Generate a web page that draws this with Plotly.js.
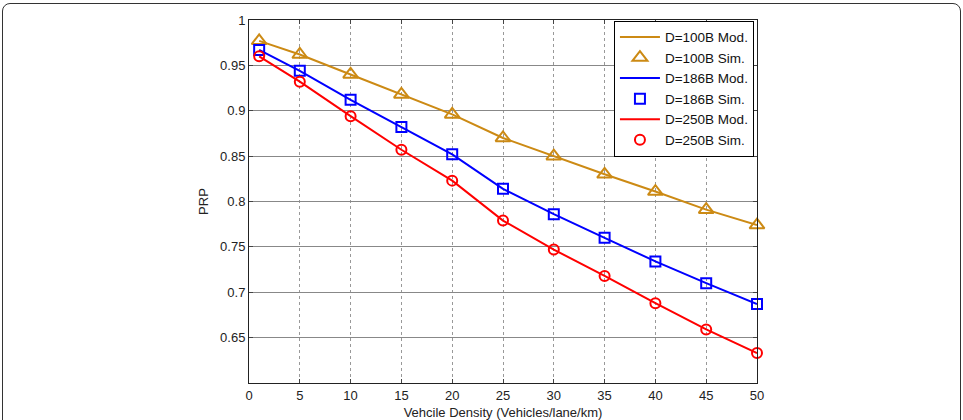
<!DOCTYPE html>
<html>
<head>
<meta charset="utf-8">
<script src="https://cdn.plot.ly/plotly-3.0.1.min.js"></script>
<style>
  html, body { margin: 0; padding: 0; background: #fff; }
  #frame { position: absolute; left: 2px; top: 3px; width: 957px; height: 440px; border: 1.5px solid #333; border-radius: 8px; }
  #chart { position: absolute; left: 0; top: 0; width: 963px; height: 420px; }
</style>
</head>
<body>
<div id="frame"></div>
<div id="chart"></div>
<script>
const density = [1, 5, 10, 15, 20, 25, 30, 35, 40, 45, 50];
const mod100 = [0.977, 0.962, 0.940, 0.918, 0.896, 0.870, 0.850, 0.830, 0.811, 0.791, 0.774];
const sim100 = [0.977, 0.962, 0.940, 0.918, 0.896, 0.870, 0.850, 0.830, 0.811, 0.791, 0.774];
const mod186 = [0.967, 0.944, 0.912, 0.882, 0.852, 0.814, 0.786, 0.760, 0.734, 0.710, 0.687];
const sim186 = [0.967, 0.944, 0.912, 0.882, 0.852, 0.814, 0.786, 0.760, 0.734, 0.710, 0.687];
const mod250 = [0.960, 0.932, 0.894, 0.857, 0.823, 0.779, 0.747, 0.718, 0.688, 0.659, 0.633];
const sim250 = [0.960, 0.932, 0.894, 0.857, 0.823, 0.779, 0.747, 0.718, 0.688, 0.659, 0.633];
const yTicks = [0.65, 0.7, 0.75, 0.8, 0.85, 0.9, 0.95, 1];
const yTickText = ['0.65', '0.7', '0.75', '0.8', '0.85', '0.9', '0.95', '1'];
const xTicks = [0, 5, 10, 15, 20, 25, 30, 35, 40, 45, 50];

const cOrange = '#CC8A14', cBlue = '#0000FF', cRed = '#FF0000';

function lineTrace(y, name, color) {
  return { x: density, y: y, name: name, type: 'scatter', mode: 'lines', cliponaxis: false,
           line: { color: color, width: 2 } };
}
function markTrace(y, name, color, symbol, size) {
  return { x: density, y: y, name: name, type: 'scatter', mode: 'markers', cliponaxis: false,
           marker: { symbol: symbol, size: size, color: color,
                     line: { color: color, width: 2 } } };
}

const data = [
  lineTrace(mod100, 'D=100B Mod.', cOrange),
  markTrace(sim100, 'D=100B Sim.', cOrange, 'triangle-up-open', 13),
  lineTrace(mod186, 'D=186B Mod.', cBlue),
  markTrace(sim186, 'D=186B Sim.', cBlue, 'square-open', 10),
  lineTrace(mod250, 'D=250B Mod.', cRed),
  markTrace(sim250, 'D=250B Sim.', cRed, 'circle-open', 10)
];

const font = { family: 'Liberation Sans, Arial, sans-serif', size: 13, color: '#222' };

const layout = {
  width: 963, height: 420,
  margin: { l: 249, r: 206, t: 20, b: 37 },
  paper_bgcolor: 'rgba(0,0,0,0)', plot_bgcolor: '#fff',
  font: font,
  showlegend: true,
  legend: { x: 0.994, y: 0.998, xanchor: 'right', yanchor: 'top',
            bgcolor: '#fff', bordercolor: '#000', borderwidth: 1,
            font: { family: font.family, size: 13.5, color: '#111' },
            tracegroupgap: 0, itemwidth: 40 },
  xaxis: {
    range: [0, 50], tickvals: xTicks, ticks: 'inside', ticklen: 4, tickcolor: '#444',
    showline: true, linecolor: '#222', linewidth: 1, mirror: 'ticks',
    showgrid: true, gridcolor: '#999', griddash: 'dot', gridwidth: 1,
    zeroline: false, tickfont: font,
    title: { text: 'Vehcile Density (Vehicles/lane/km)', font: font, standoff: 6 }
  },
  yaxis: {
    range: [0.6, 1], tickvals: yTicks, ticktext: yTickText, ticks: 'inside', ticklen: 4, tickcolor: '#444',
    showline: true, linecolor: '#222', linewidth: 1, mirror: 'ticks',
    showgrid: true, gridcolor: '#888', gridwidth: 1,
    zeroline: false, tickfont: font,
    title: { text: 'PRP', font: font, standoff: 8 }
  }
};

Plotly.newPlot('chart', data, layout, { displayModeBar: false, staticPlot: true });
</script>
</body>
</html>
